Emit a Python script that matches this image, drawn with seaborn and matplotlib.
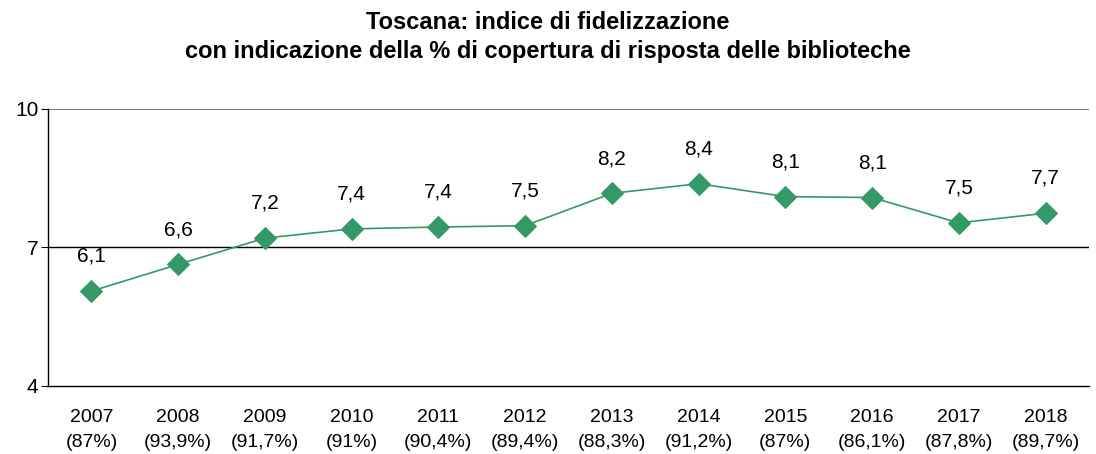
import numpy as np
import pandas as pd
import matplotlib
matplotlib.use("Agg")
import matplotlib.pyplot as plt
import seaborn as sns

anni = ["2007", "2008", "2009", "2010", "2011", "2012",
        "2013", "2014", "2015", "2016", "2017", "2018"]
copertura = ["87%", "93,9%", "91,7%", "91%", "90,4%", "89,4%",
             "88,3%", "91,2%", "87%", "86,1%", "87,8%", "89,7%"]
indice = [6.05, 6.63, 7.2, 7.4, 7.44, 7.47, 8.17, 8.38, 8.1, 8.08, 7.53, 7.74]
etichette = ["6,1", "6,6", "7,2", "7,4", "7,4", "7,5",
             "8,2", "8,4", "8,1", "8,1", "7,5", "7,7"]

df = pd.DataFrame({"pos": np.arange(len(anni)), "indice": indice})

sns.set_style("white")
plt.rcParams["font.family"] = ["Liberation Sans", "DejaVu Sans"]
plt.rcParams["text.color"] = "black"
plt.rcParams["xtick.color"] = "black"
plt.rcParams["ytick.color"] = "black"

fig = plt.figure(figsize=(10.96, 4.54), dpi=100)
ax = fig.add_axes([0.0438, 0.1504, 0.9498, 0.6096])

verde = "#339966"
sns.lineplot(data=df, x="pos", y="indice", ax=ax, color=verde, linewidth=1.2,
             marker="D", markersize=11, markeredgecolor=verde, zorder=3)

# etichette valori sopra i punti
for i, (v, t) in enumerate(zip(indice, etichette)):
    ax.annotate(t, (i, v), xytext=(0, 25), textcoords="offset points",
                ha="center", va="center", fontsize=15, color="black")

ax.set_xlim(-0.5, len(anni) - 0.5)
ax.set_ylim(4, 10)
ax.set_yticks([4, 7, 10])
ax.set_yticklabels(["4", "7", "10"], fontsize=15)
ax.set_xticks(np.arange(len(anni)))
ax.set_xticklabels([f"{a}\n({c})" for a, c in zip(anni, copertura)],
                   fontsize=14, linespacing=1.6)
ax.set_xticks(np.arange(len(anni) + 1) - 0.5, minor=True)
ax.tick_params(axis="x", which="major", length=0, pad=17)
ax.tick_params(axis="x", which="minor", length=5, width=0.8, color="black", direction="out")
ax.tick_params(axis="y", length=5, width=0.8, color="black", direction="out", pad=2, left=True)
ax.set_xlabel("")
ax.set_ylabel("")

ax.axhline(7, color="black", linewidth=1, zorder=1)
ax.axhline(10, color="#808080", linewidth=1.5, zorder=1)

for s in ["top", "right"]:
    ax.spines[s].set_visible(False)
for s in ["left", "bottom"]:
    ax.spines[s].set_color("black")
    ax.spines[s].set_linewidth(1)

fig.suptitle("Toscana: indice di fidelizzazione\n"
             "con indicazione della % di copertura di risposta delle biblioteche",
             fontsize=17, fontweight="bold", y=0.975, va="top", linespacing=1.3)

fig.savefig("out.png", dpi=100)
